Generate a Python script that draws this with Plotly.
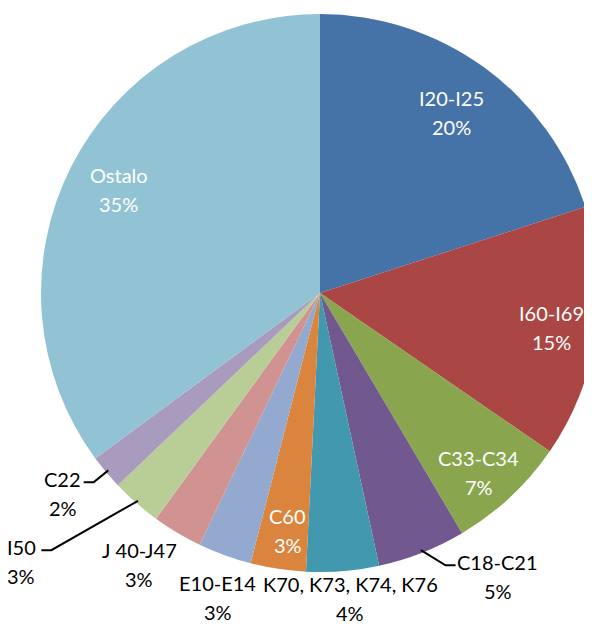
import math
import plotly.graph_objects as go

# ---- data ----
labels = ["I20-I25", "I60-I69", "C33-C34", "C18-C21", "K70, K73, K74, K76",
          "C60", "E10-E14", "J 40-J47", "I50", "C22", "Ostalo"]
values = [20.0, 14.6, 6.9, 5.1, 4.2, 3.2, 3.1, 2.9, 2.9, 2.0, 35.1]

# ---- style ----
colors = ["#4572A7", "#AA4643", "#89A54E", "#71588F", "#4198AF", "#DB843D",
          "#93A9CF", "#D19392", "#B9CD96", "#A99BBD", "#92C3D4"]
inside = [True, True, True, False, False, True, False, False, False, False, True]
label_r = [0.80, 0.84, 0.86, 1.20, 1.10, 0.86, 1.15, 1.17, 1.44, 1.17, 0.81]
label_shift = [0.1, 0.3, 1.6, -10.6, -1.0, -0.9, -1.4, 2.8, 6.8, 2.0, 0.3]
leader = [False, False, False, True, False, False, False, False, True, True, False]
half_w = [0, 0, 0, 38, 0, 0, 0, 0, 16, 17, 0]

OFF = 8                 # page body margin
W, H = 600, 618         # figure size (page is viewed through a 592x626 window)
CX, CY, R = 320 - OFF, 293 - OFF, 279
FONT = "Lato"
FS = 20
LINE_GAP = 14.5

fig = go.Figure(go.Pie(
    labels=labels, values=values, sort=False, direction="clockwise", rotation=0,
    marker=dict(colors=colors, line=dict(width=0)),
    textinfo="none", hoverinfo="label+percent", showlegend=False,
    domain=dict(x=[(CX - R) / W, (CX + R) / W],
                y=[1 - (CY + R) / H, 1 - (CY - R) / H]),
))

total = sum(values)
annotations = []
shapes = []
cum = 0.0
for i, (lab, v) in enumerate(zip(labels, values)):
    a0 = cum / total * 360
    cum += v
    a1 = cum / total * 360
    mid = (a0 + a1) / 2
    ang = math.radians(mid + label_shift[i])
    px = CX + label_r[i] * R * math.sin(ang)
    py = CY - label_r[i] * R * math.cos(ang)
    pct = f"{round(v / total * 100)}%"
    col = "white" if inside[i] else "black"
    for txt, dy in ((lab, -LINE_GAP), (pct, LINE_GAP)):
        annotations.append(dict(
            x=px / W, y=1 - (py + dy) / H, xref="paper", yref="paper",
            text=txt, showarrow=False, xanchor="center", yanchor="middle",
            font=dict(family=FONT, size=FS, color=col)))
    if leader[i]:
        m = math.radians(mid)
        sx = CX + 0.99 * R * math.sin(m)
        sy = CY - 0.99 * R * math.cos(m)
        ly = py - LINE_GAP + 3
        if px > CX:
            ex = px - half_w[i] - 4
            bx = ex - 10
        else:
            ex = px + half_w[i] + 4
            bx = ex + 10
        pts = [(sx, sy), (bx, ly), (ex, ly)]
        path = "M " + " L ".join(f"{x / W},{1 - y / H}" for x, y in pts)
        shapes.append(dict(type="path", path=path, xref="paper", yref="paper",
                           line=dict(color="black", width=2)))

fig.update_layout(
    width=W, height=H,
    margin=dict(l=0, r=0, t=0, b=0),
    paper_bgcolor="white", plot_bgcolor="white",
    annotations=annotations, shapes=shapes,
)

fig.write_html("out.html")
